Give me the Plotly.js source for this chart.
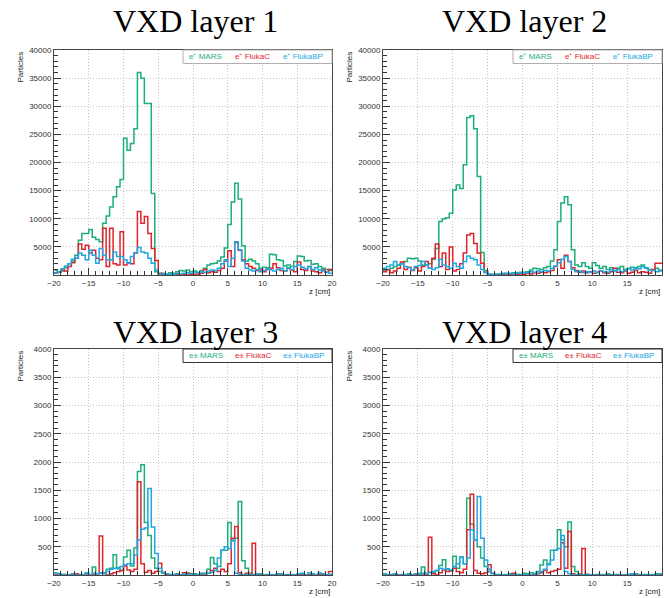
<!DOCTYPE html>
<html>
<head>
<meta charset="utf-8">
<script src="https://cdn.plot.ly/plotly-3.0.1.min.js"></script>
<style>
  html, body { margin: 0; padding: 0; background: #ffffff; }
  #chart { width: 664px; height: 598px; }
</style>
</head>
<body>
<div id="chart"></div>
<script>
// z binning of the VXD hit histograms: 80 bins of 0.5 cm between -20 and 20 cm
const Z_MIN = -20;
const BIN_WIDTH = 0.5;
const N_BINS = 80;

const X_TICKS = [-20, -15, -10, -5, 0, 5, 10, 15, 20];
const Y_TICKS_TOP = [5000, 10000, 15000, 20000, 25000, 30000, 35000, 40000];
const Y_TICKS_BOTTOM = [500, 1000, 1500, 2000, 2500, 3000, 3500, 4000];

const SOURCES = ['MARS', 'FlukaC', 'FlukaBP'];
const PANEL_TITLES = ['VXD layer 1', 'VXD layer 2', 'VXD layer 3', 'VXD layer 4'];
const PARTICLES = ['e\u207a', 'e\u207a', 'e\u00b1', 'e\u00b1'];

// Particles per bin, layer 1
const L1_MARS = [
  900, 500, 700, 1300, 2000, 2500, 3500, 6200, 7400, 7400,
  8100, 6700, 6300, 5900, 9200, 10500, 12100, 13900, 15700, 17000,
  24300, 22200, 23400, 26000, 36000, 35000, 30500, 30500, 14500, 600,
  200, 300, 200, 400, 300, 600, 800, 700, 900, 600,
  700, 500, 800, 1200, 1800, 2000, 2100, 2500, 3200, 4800,
  9000, 13000, 16300, 13500, 5200, 2500, 2800, 2500, 2000, 1200,
  1400, 1300, 3700, 3600, 2700, 2600, 1600, 1800, 1500, 2400,
  3400, 3300, 2500, 2600, 1900, 2000, 1500, 1200, 1000, 800
];
const L1_FLUKAC = [
  400, 600, 900, 700, 1500, 2200, 3000, 5500, 4600, 5300,
  3900, 4400, 3000, 2700, 8300, 1500, 8300, 2000, 1800, 7700,
  1800, 2200, 2000, 3900, 11300, 9200, 10400, 7400, 4700, 2600,
  300, 100, 50, 0, 100, 50, 0, 100, 0, 50,
  100, 200, 300, 1000, 400, 600, 500, 800, 1200, 2500,
  4300, 1500, 5800, 4400, 2700, 2000, 1500, 1200, 800, 900,
  600, 1000, 1200, 2000, 1300, 800, 700, 1200, 900, 600,
  2300, 1000, 800, 1500, 700, 600, 400, 900, 500, 1000
];
const L1_FLUKABP = [
  300, 600, 1100, 1600, 2000, 2800, 3000, 3900, 3500, 2700,
  4400, 3500, 2100, 4700, 3500, 2700, 2700, 4100, 3300, 3300,
  2700, 2100, 3300, 3900, 4900, 4100, 3900, 3000, 2100, 900,
  200, 200, 100, 200, 100, 300, 200, 300, 400, 300,
  500, 400, 600, 500, 700, 900, 800, 1200, 2000, 2700,
  1500, 3000, 5900, 4500, 2500, 1200, 900, 700, 1000, 600,
  800, 1100, 900, 700, 1000, 1200, 700, 1300, 1000, 1500,
  1800, 1400, 1100, 1500, 1000, 1300, 900, 700, 500, 300
];

// Particles per bin, layer 2
const L2_MARS = [
  900, 1000, 1200, 1500, 1800, 2000, 2400, 3000, 2900, 3000,
  2500, 1800, 1800, 2000, 2800, 4700, 9500, 10000, 10200, 11000,
  15100, 16000, 15400, 19600, 28000, 28300, 26000, 17500, 4000, 800,
  200, 100, 100, 200, 150, 300, 200, 400, 300, 500,
  400, 600, 900, 1200, 1100, 1000, 1300, 1500, 2500, 4500,
  9500, 12800, 13900, 12500, 4500, 1800, 1500, 2200, 1500, 1200,
  2200, 1700, 1200, 1500, 1000, 1300, 800, 1200, 1500, 1000,
  1200, 1400, 1100, 1500, 1800, 1300, 1000, 900, 1200, 700
];
const L2_FLUKAC = [
  600, 900, 400, 700, 1200, 2300, 1000, 1400, 800, 1300,
  700, 1500, 2400, 1200, 3000, 5500, 1500, 3900, 1000, 5000,
  700, 1000, 2000, 3900, 7100, 7400, 5600, 3900, 2100, 500,
  100, 50, 0, 100, 0, 50, 100, 0, 100, 200,
  100, 300, 200, 400, 300, 500, 400, 600, 800, 1500,
  2700, 1200, 3500, 2400, 1300, 800, 500, 700, 400, 600,
  300, 500, 700, 400, 300, 600, 1200, 500, 400, 700,
  300, 500, 800, 400, 600, 500, 300, 1000, 2100, 2100
];
const L2_FLUKABP = [
  1200, 1500, 1800, 2400, 1800, 2000, 1500, 1300, 900, 1500,
  1700, 2400, 1800, 1200, 1000, 1300, 2800, 1800, 1500, 1200,
  2100, 1500, 1200, 2400, 3400, 3000, 2700, 1800, 1000, 400,
  100, 100, 200, 100, 300, 200, 300, 200, 400, 300,
  500, 400, 600, 500, 700, 600, 800, 700, 1200, 1600,
  2200, 2800, 3300, 2400, 1000, 600, 700, 400, 600, 500,
  700, 400, 800, 600, 500, 900, 700, 1000, 600, 800,
  1100, 900, 1300, 1100, 1500, 1200, 900, 800, 600, 900
];

// Particles per bin, layer 3
const L3_MARS = [
  30, 20, 0, 10, 0, 20, 0, 10, 0, 30,
  0, 140, 20, 30, 40, 100, 120, 360, 130, 80,
  320, 440, 160, 480, 1830, 1950, 930, 700, 300, 120,
  60, 30, 0, 10, 0, 20, 0, 10, 30, 20,
  20, 10, 30, 20, 100, 310, 200, 150, 440, 440,
  930, 600, 650, 1300, 250, 120, 30, 10, 0, 20,
  0, 10, 0, 0, 20, 0, 0, 10, 0, 0,
  20, 0, 0, 10, 0, 0, 30, 0, 0, 10
];
const L3_FLUKAC = [
  0, 0, 10, 0, 0, 0, 20, 0, 0, 0,
  0, 0, 20, 690, 30, 0, 20, 40, 60, 80,
  160, 90, 60, 100, 1650, 200, 50, 80, 30, 60,
  210, 50, 0, 0, 0, 10, 0, 40, 30, 0,
  0, 0, 10, 20, 30, 80, 120, 60, 100, 60,
  200, 650, 860, 40, 0, 30, 0, 560, 20, 0,
  0, 0, 0, 0, 0, 0, 0, 0, 0, 0,
  0, 0, 0, 0, 0, 0, 0, 0, 0, 60
];
const L3_FLUKABP = [
  30, 0, 10, 0, 0, 20, 0, 0, 10, 40,
  0, 30, 20, 40, 20, 60, 100, 120, 110, 150,
  180, 200, 200, 355, 620, 810, 830, 1530, 850, 380,
  120, 40, 20, 0, 10, 0, 0, 20, 0, 10,
  0, 10, 20, 30, 30, 50, 80, 300, 440, 500,
  470, 620, 30, 10, 0, 10, 0, 0, 20, 0,
  0, 0, 10, 0, 0, 20, 0, 0, 10, 0,
  20, 30, 0, 40, 20, 0, 30, 20, 0, 10
];

// Particles per bin, layer 4
const L4_MARS = [
  20, 0, 10, 0, 0, 10, 0, 20, 0, 10,
  30, 140, 30, 50, 40, 80, 170, 270, 100, 80,
  330, 120, 320, 200, 1360, 900, 620, 500, 300, 150,
  60, 20, 0, 10, 0, 0, 20, 0, 10, 0,
  30, 20, 40, 30, 60, 175, 265, 200, 440, 440,
  800, 620, 500, 940, 150, 60, 20, 0, 10, 0,
  0, 10, 0, 0, 20, 0, 0, 10, 0, 0,
  10, 0, 20, 0, 0, 10, 0, 0, 20, 0
];
const L4_FLUKAC = [
  0, 0, 0, 10, 0, 0, 0, 0, 0, 10,
  0, 0, 0, 670, 20, 0, 40, 90, 60, 70,
  120, 60, 40, 100, 800, 1430, 80, 30, 20, 40,
  180, 30, 0, 0, 0, 0, 0, 30, 0, 0,
  0, 0, 0, 10, 20, 40, 90, 40, 60, 80,
  100, 570, 120, 770, 20, 0, 0, 470, 10, 0,
  0, 0, 0, 0, 0, 0, 0, 0, 0, 0,
  0, 0, 0, 0, 0, 0, 0, 0, 0, 0
];
const L4_FLUKABP = [
  10, 0, 0, 20, 0, 0, 10, 0, 0, 20,
  0, 30, 20, 40, 60, 80, 120, 100, 110, 90,
  150, 200, 320, 200, 300, 800, 620, 1390, 650, 265,
  100, 30, 10, 0, 0, 10, 0, 0, 10, 0,
  0, 10, 0, 20, 30, 60, 100, 180, 265, 440,
  470, 700, 60, 20, 0, 10, 0, 0, 10, 0,
  0, 0, 10, 0, 0, 0, 10, 0, 0, 0,
  10, 20, 0, 0, 10, 0, 0, 10, 0, 20
];

// ---------------------------------------------------------------------------
const W = 664, H = 598;
const COLORS = ['#1daf78', '#e0262c', '#22a6e4'];
const SANS = 'Liberation Sans, Arial, sans-serif';
const SERIF = 'Liberation Serif, Times New Roman, serif';

// Frame of every pad in pixels: [left, right, top, bottom]; titleTop is the top of the pad title box
const PANELS = [
  { series: [L1_MARS, L1_FLUKAC, L1_FLUKABP], yTicks: Y_TICKS_TOP,    yMax: 40000, yMinor: 1000, frame: [54, 332, 50, 275],   titleTop: 1 },
  { series: [L2_MARS, L2_FLUKAC, L2_FLUKABP], yTicks: Y_TICKS_TOP,    yMax: 40000, yMinor: 1000, frame: [383, 662, 50, 275],  titleTop: 1 },
  { series: [L3_MARS, L3_FLUKAC, L3_FLUKABP], yTicks: Y_TICKS_BOTTOM, yMax: 4000,  yMinor: 100,  frame: [54, 332, 349, 575],  titleTop: 312 },
  { series: [L4_MARS, L4_FLUKAC, L4_FLUKABP], yTicks: Y_TICKS_BOTTOM, yMax: 4000,  yMinor: 100,  frame: [383, 662, 349, 575], titleTop: 312 }
];

const px = x => x / W;
const py = y => 1 - y / H;

const edges = [];
for (let i = 0; i <= N_BINS; i++) edges.push(Z_MIN + i * BIN_WIDTH);
const stepValues = vals => vals.concat([vals[vals.length - 1]]);

const traces = [];
const layout = {
  width: W, height: H,
  margin: { l: 0, r: 0, t: 0, b: 0 },
  paper_bgcolor: '#ffffff',
  plot_bgcolor: '#ffffff',
  showlegend: false,
  annotations: [],
  shapes: []
};

const tickFont = { family: SANS, size: 8, color: '#333333' };
const GRID = { showgrid: true, gridcolor: '#c4c4c4', griddash: '1px,2px', gridwidth: 1 };

PANELS.forEach((p, k) => {
  const sfx = k === 0 ? '' : String(k + 1);
  const [x0, x1, y0, y1] = p.frame;

  p.series.forEach((vals, s) => {
    traces.push({
      type: 'scatter', mode: 'lines',
      x: edges, y: stepValues(vals),
      line: { shape: 'hv', color: COLORS[s], width: 1.5 },
      xaxis: 'x' + sfx, yaxis: 'y' + sfx,
      hoverinfo: 'skip'
    });
  });

  layout['xaxis' + sfx] = Object.assign({
    domain: [px(x0), px(x1)], anchor: 'y' + sfx,
    range: [Z_MIN, Z_MIN + N_BINS * BIN_WIDTH],
    tickmode: 'array', tickvals: X_TICKS,
    ticks: 'inside', ticklen: 7, tickwidth: 1, tickcolor: '#333333',
    showline: true, mirror: true, linecolor: '#444444', linewidth: 1,
    zeroline: false, tickfont: tickFont,
    minor: { tickmode: 'linear', tick0: Z_MIN, dtick: 1, ticks: 'inside', ticklen: 4, tickcolor: '#333333', showgrid: false },
    fixedrange: true
  }, GRID);
  layout['yaxis' + sfx] = Object.assign({
    domain: [py(y1), py(y0)], anchor: 'x' + sfx,
    range: [0, p.yMax],
    tickmode: 'array', tickvals: p.yTicks, ticktext: p.yTicks.map(String),
    ticks: 'inside', ticklen: 7, tickwidth: 1, tickcolor: '#333333',
    showline: true, mirror: true, linecolor: '#444444', linewidth: 1,
    zeroline: false, tickfont: tickFont,
    minor: { tickmode: 'linear', tick0: 0, dtick: p.yMinor, ticks: 'inside', ticklen: 4, tickcolor: '#333333', showgrid: false },
    fixedrange: true
  }, GRID);

  // pad title
  layout.annotations.push({
    xref: 'paper', yref: 'paper', x: px((x0 + x1) / 2 + 2), y: py(p.titleTop),
    xanchor: 'center', yanchor: 'top', showarrow: false,
    text: PANEL_TITLES[k], font: { family: SERIF, size: 32, color: '#000000' }
  });
  // axis titles
  layout.annotations.push({
    xref: 'paper', yref: 'paper', x: px(x0 - 34), y: py(y0),
    xanchor: 'center', yanchor: 'top', showarrow: false, textangle: -90,
    text: 'Particles', font: { family: SANS, size: 8, color: '#222222' }
  });
  layout.annotations.push({
    xref: 'paper', yref: 'paper', x: px(x1), y: py(y1 + 16),
    xanchor: 'right', yanchor: 'middle', showarrow: false,
    text: 'z [cm]', font: { family: SANS, size: 8, color: '#222222' }
  });

  // legend box
  const lx0 = x1 - 149, ly1 = y0 + 13.5;
  layout.shapes.push({
    type: 'rect', xref: 'paper', yref: 'paper',
    x0: px(lx0), x1: px(x1), y0: py(ly1), y1: py(y0),
    fillcolor: '#ffffff', line: { color: k < 2 ? '#b0b0b0' : '#333333', width: 1 }
  });
  const offsets = [4, 50, 98];
  SOURCES.forEach((name, s) => {
    layout.annotations.push({
      xref: 'paper', yref: 'paper', x: px(lx0 + offsets[s]), y: py((y0 + ly1) / 2),
      xanchor: 'left', yanchor: 'middle', showarrow: false,
      text: PARTICLES[k] + ' ' + name, font: { family: SANS, size: 8, color: COLORS[s] }
    });
  });
});

Plotly.newPlot('chart', traces, layout, { staticPlot: true, displayModeBar: false });
</script>
</body>
</html>
